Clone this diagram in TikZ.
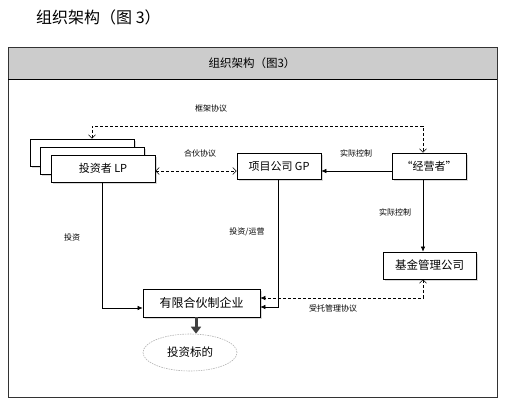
\documentclass[tikz,border=0pt]{standalone}
\usepackage{fontspec}
\setmainfont{Noto Sans CJK SC}
\usetikzlibrary{arrows.meta,shapes.geometric,shadows,calc}
\tikzset{
  box/.style={draw=black, line width=0.7pt, fill=white, inner sep=0pt,
    drop shadow={shadow xshift=1.5pt, shadow yshift=-1.5pt, opacity=0.3}},
  lbl/.style={font=\fontsize{8}{9}\selectfont, inner sep=0pt},
  vtip/.tip={Straight Barb[length=3.5pt,width=7pt,line width=0.6pt]},
  ltip/.tip={Latex[length=5pt,width=4.5pt]},
  solidarr/.style={line width=0.6pt, -{ltip}},
  dasharr/.style={line width=0.6pt, dash pattern=on 3pt off 2pt},
}
\begin{document}
\begin{tikzpicture}[x=1pt,y=-1pt]
\useasboundingbox (0,0) rectangle (506,402);
% page title
\node[font=\fontsize{16}{17}\selectfont, anchor=west, inner sep=0pt] (ttl) at (36,17) {组织架构（图 3）};
% frame
\fill[gray!40] (8,47) rectangle (497,79);
\draw[black!80, line width=1pt] (8,47) rectangle (497,397);
\draw[black, line width=0.8pt] (8,79) -- (497,79);
\node[font=\fontsize{11.5}{12}\selectfont, inner sep=0pt] (hdr) at (252,63) {组织架构（图3）};

% LP stack
\node[box, minimum width=104pt, minimum height=27pt] (lp3) at (82,152.5) {};
\node[box, minimum width=104pt, minimum height=27pt] (lp2) at (92.5,160.5) {};
\node[box, minimum width=104pt, minimum height=27pt, font=\fontsize{11}{12}\selectfont] (lp) at (103,168.5) {投资者 LP};

\node[box, minimum width=84pt, minimum height=26pt, font=\fontsize{11}{12}\selectfont] (gp) at (279,166) {项目公司 GP};
\node[box, minimum width=74pt, minimum height=26pt, font=\fontsize{11}{12}\selectfont] (jyz) at (429,166) {“经营者”};
\node[box, minimum width=93pt, minimum height=27pt, font=\fontsize{11.5}{12}\selectfont] (jj) at (429.5,265.5) {基金管理公司};
\node[box, minimum width=117pt, minimum height=28pt, font=\fontsize{12}{13}\selectfont] (yx) at (201.5,303) {有限合伙制企业};
\node[ellipse, draw=gray!60, dash pattern=on 1.5pt off 1pt, line width=0.6pt, fill=white,
      minimum width=94pt, minimum height=37pt, inner sep=0pt, font=\fontsize{11.5}{12}\selectfont] (bd) at (190,352.5) {投资标的};

% labels
\node[lbl] (l1) at (211,108) {框架协议};
\node[lbl] (l2) at (200,153) {合伙协议};
\node[lbl] (l3) at (356,153) {实际控制};
\node[lbl] (l4) at (395,212) {实际控制};
\node[lbl] (l5) at (72,237) {投资};
\node[lbl] (l6) at (247,232) {投资/运营};
\node[lbl] (l7) at (333,308) {受托管理协议};

% helper coordinates
\coordinate (faL) at (92,126);
\coordinate (faR) at (423,126);
\coordinate (r1) at (0,171);
\coordinate (cx) at (423,0);
\coordinate (d1) at (423,298);
\coordinate (g1) at (278,307);
\coordinate (tx) at (196,0);
\coordinate (lx) at (102,0);

% connectors
\draw[dasharr, {vtip}-{vtip}] (lp3.north -| faL) -- (faL) -- (faR) -- (jyz.north -| faR);
\draw[dasharr, {vtip}-{vtip}] (lp.east |- r1) -- (gp.west |- r1);
\draw[solidarr] (jyz.west |- r1) -- (gp.east |- r1);
\draw[solidarr] (jyz.south -| cx) -- (jj.north -| cx);
\draw[dasharr, {vtip}-{ltip}] (jj.south -| cx) -- (d1) -- (yx.east |- d1);
\draw[solidarr] (gp.south -| g1) -- (g1) -- (yx.east |- g1);
\draw[solidarr] (lp.south -| lx) |- ([yshift=-5pt]yx.west);
\draw[line width=3pt, black!75, -{Triangle[length=7pt,width=10pt]}] (yx.south -| tx) -- (bd.north -| tx);
\end{tikzpicture}
\end{document}
